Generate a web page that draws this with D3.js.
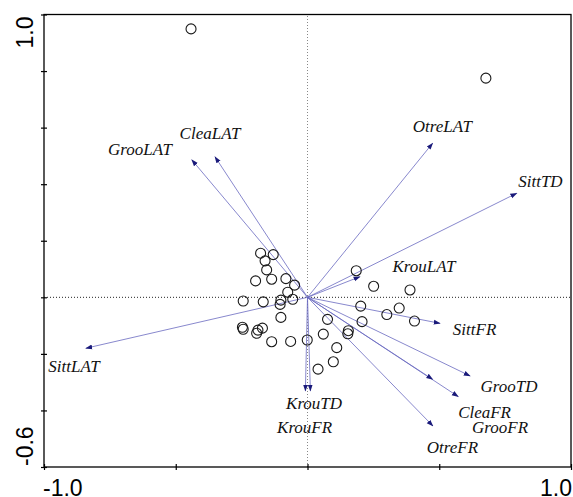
<!DOCTYPE html>
<html>
<head>
<meta charset="utf-8">
<script src="https://cdn.jsdelivr.net/npm/d3@7"></script>
<style>
    html, body { margin: 0; padding: 0; background: #fff; }
    svg { display: block; }
</style>
</head>
<body>
<div id="chart"></div>
<script>
// Site scores (circles)
const siteX = [-0.442, 0.677, -0.178, -0.130, -0.161, -0.155, -0.197, -0.136, -0.082, -0.049,
    -0.075, -0.056, -0.101, -0.244, -0.168, -0.104, -0.101, -0.247, -0.244, -0.171,
    -0.188, -0.193, -0.136, -0.064, -0.001, 0.060, 0.076, 0.155, 0.153, 0.111,
    0.098, 0.040, 0.185, 0.251, 0.389, 0.202, 0.301, 0.348, 0.406, 0.207];
const siteY = [0.949, 0.775, 0.156, 0.151, 0.129, 0.097, 0.058, 0.064, 0.066, 0.043,
    0.018, -0.007, -0.010, -0.013, -0.016, -0.025, -0.071, -0.106, -0.113, -0.109,
    -0.116, -0.127, -0.157, -0.156, -0.151, -0.130, -0.078, -0.118, -0.129, -0.178,
    -0.228, -0.254, 0.094, 0.039, 0.026, -0.031, -0.061, -0.038, -0.084, -0.086];

// Species arrows
const speciesNames = ["GrooLAT", "CleaLAT", "OtreLAT", "SittTD", "KrouLAT", "SittLAT", "SittFR",
    "GrooTD", "CleaFR", "GrooFR", "OtreFR", "KrouTD", "KrouFR"];
const speciesX = [-0.439, -0.351, 0.475, 0.794, 0.199, -0.841, 0.503,
    0.617, 0.572, 0.475, 0.476, -0.008, 0.011];
const speciesY = [0.486, 0.497, 0.545, 0.368, 0.073, -0.180, -0.092,
    -0.278, -0.351, -0.290, -0.455, -0.331, -0.331];
// label anchor points (data units)
const labelX = [-0.636, -0.370, 0.512, 0.884, 0.442, -0.886, 0.634,
    0.765, 0.672, 0.731, 0.550, 0.025, -0.011];
const labelY = [0.503, 0.560, 0.585, 0.390, 0.089, -0.264, -0.133,
    -0.335, -0.427, -0.480, -0.551, -0.395, -0.480];

const xDomain = [-1.0, 1.0];
const yDomain = [-0.6, 1.0];
const xTicks = [-1.0, -0.5, 0, 0.5, 1.0];
const yTicks = [-0.6, -0.4, -0.2, 0, 0.2, 0.4, 0.6, 0.8, 1.0];

const width = 573, height = 497;
const margin = { top: 14.5, right: 2, bottom: 30, left: 44 };

const svg = d3.select("#chart").append("svg")
    .attr("width", width)
    .attr("height", height);

const x = d3.scaleLinear().domain(xDomain).range([margin.left, width - margin.right]);
const y = d3.scaleLinear().domain(yDomain).range([height - margin.bottom, margin.top]);

const defs = svg.append("defs");
defs.append("marker")
    .attr("id", "head")
    .attr("viewBox", "0 0 10 10")
    .attr("refX", 9)
    .attr("refY", 5)
    .attr("markerWidth", 7)
    .attr("markerHeight", 7)
    .attr("markerUnits", "userSpaceOnUse")
    .attr("orient", "auto")
    .append("path")
    .attr("d", "M0,1.5 L10,5 L0,8.5 Z")
    .attr("fill", "#1a1a7a");

// zero lines
svg.append("line")
    .attr("x1", x(xDomain[0])).attr("x2", x(xDomain[1]))
    .attr("y1", y(0)).attr("y2", y(0))
    .attr("stroke", "#222").attr("stroke-width", 1)
    .attr("stroke-dasharray", "1,2");
svg.append("line")
    .attr("x1", x(0)).attr("x2", x(0))
    .attr("y1", y(yDomain[0])).attr("y2", y(yDomain[1]))
    .attr("stroke", "#888").attr("stroke-width", 1)
    .attr("stroke-dasharray", "1,2");

// frame
svg.append("rect")
    .attr("x", x(xDomain[0])).attr("y", y(yDomain[1]))
    .attr("width", x(xDomain[1]) - x(xDomain[0]))
    .attr("height", y(yDomain[0]) - y(yDomain[1]))
    .attr("fill", "none").attr("stroke", "#000").attr("stroke-width", 1.3);

// axes ticks (crossing the frame)
svg.append("g")
    .attr("transform", `translate(0,${y(yDomain[0])})`)
    .call(d3.axisBottom(x).tickValues(xTicks).tickSize(3).tickFormat(""))
    .call(g => g.select(".domain").remove())
    .call(g => g.selectAll(".tick line").attr("y1", -3).attr("stroke-width", 1.2));
svg.append("g")
    .attr("transform", `translate(${x(xDomain[0])},0)`)
    .call(d3.axisLeft(y).tickValues(yTicks).tickSize(3).tickFormat(""))
    .call(g => g.select(".domain").remove())
    .call(g => g.selectAll(".tick line").attr("x1", 3).attr("stroke-width", 1.2));

// axis end labels
const tickFont = "Arial, 'Liberation Sans', sans-serif";
svg.append("text")
    .attr("x", x(xDomain[0]) - 1).attr("y", 496)
    .attr("font-family", tickFont).attr("font-size", 23)
    .attr("text-anchor", "start")
    .text("-1.0");
svg.append("text")
    .attr("x", x(xDomain[1]) + 1).attr("y", 496)
    .attr("font-family", tickFont).attr("font-size", 23)
    .attr("text-anchor", "end")
    .text("1.0");
svg.append("text")
    .attr("transform", `translate(33,${y(yDomain[1]) + 2}) rotate(-90)`)
    .attr("font-family", tickFont).attr("font-size", 23)
    .attr("text-anchor", "end")
    .text("1.0");
svg.append("text")
    .attr("transform", `translate(33,${y(yDomain[0]) - 1}) rotate(-90)`)
    .attr("font-family", tickFont).attr("font-size", 23)
    .attr("text-anchor", "start")
    .text("-0.6");

// arrows
const species = speciesNames.map((n, i) => ({
    name: n, x: speciesX[i], y: speciesY[i], lx: labelX[i], ly: labelY[i]
}));

svg.append("g").selectAll("line")
    .data(species)
    .enter().append("line")
    .attr("x1", x(0)).attr("y1", y(0))
    .attr("x2", d => x(d.x)).attr("y2", d => y(d.y))
    .attr("stroke", "#6a6ac0")
    .attr("stroke-width", 0.8)
    .attr("marker-end", "url(#head)");

// sites
svg.append("g").selectAll("circle")
    .data(siteX.map((v, i) => ({ x: v, y: siteY[i] })))
    .enter().append("circle")
    .attr("cx", d => x(d.x))
    .attr("cy", d => y(d.y))
    .attr("r", 5)
    .attr("fill", "none")
    .attr("stroke", "#1a1a1a")
    .attr("stroke-width", 1.1);

// species labels
svg.append("g").selectAll("text")
    .data(species)
    .enter().append("text")
    .attr("x", d => x(d.lx))
    .attr("y", d => y(d.ly))
    .attr("text-anchor", "middle")
    .attr("font-family", "'Times New Roman', 'Liberation Serif', serif")
    .attr("font-style", "italic")
    .attr("font-size", 17)
    .attr("fill", "#111")
    .text(d => d.name);
</script>
</body>
</html>
